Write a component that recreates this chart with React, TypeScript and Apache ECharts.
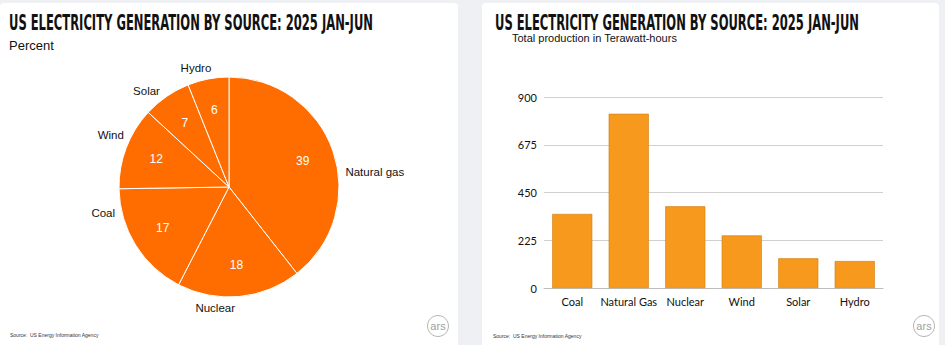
import React, { useEffect, useRef } from "react";
import * as echarts from "echarts";

const TITLE = "US ELECTRICITY GENERATION BY SOURCE: 2025 JAN-JUN";
const pieNames = ["Natural gas", "Nuclear", "Coal", "Wind", "Solar", "Hydro"];
const pieValues = [39, 18, 17, 12, 7, 6];
const barCategories = ["Coal", "Natural Gas", "Nuclear", "Wind", "Solar", "Hydro"];
const barValues = [349, 821, 385, 248, 140, 127];
const yTicks = [0, 225, 450, 675, 900];

// label nudges (styling only): [dx, dy] per pie slice label
const labelNudges: [number, number][] = [
  [-2, 24],
  [-50, 2],
  [-7, -37],
  [12, -9],
  [4, 3],
  [10, -1],
];

const TITLE_FONT = '"Liberation Sans Narrow", "DejaVu Sans Condensed", "Liberation Sans", sans-serif';
const BODY_FONT = '"Liberation Sans", Arial, Helvetica, sans-serif';

function measure(text: string, font: string): number {
  const c = document.createElement("canvas");
  const ctx = c.getContext("2d");
  if (!ctx) return text.length * 10;
  ctx.font = font;
  return ctx.measureText(text).width;
}

export default function App() {
  const ref = useRef<HTMLDivElement>(null);
  useEffect(() => {
    if (!ref.current) return;
    const chart = echarts.init(ref.current, null, { renderer: "svg" });
    const titleSize = 22;
    const tw = measure(TITLE, `bold ${titleSize}px ${TITLE_FONT}`);
    const sx = 364 / tw;

    const pieData = pieNames.map((n, i) => ({ name: n, value: pieValues[i] }));

    const titleEl = (x: number) => ({
      type: "text",
      x,
      y: 22,
      scaleX: sx,
      style: {
        text: TITLE,
        font: `bold ${titleSize}px ${TITLE_FONT}`,
        fill: "#111",
        verticalAlign: "middle",
      },
    });

    const logo = (cx: number, cy: number) => [
      {
        type: "circle",
        shape: { cx, cy, r: 10.5 },
        style: { fill: "#fff", stroke: "#b5b5b5", lineWidth: 1 },
      },
      {
        type: "text",
        x: cx,
        y: cy,
        style: {
          text: "ars",
          font: `11px ${BODY_FONT}`,
          fill: "#a0a0a0",
          align: "center",
          verticalAlign: "middle",
        },
      },
    ];

    chart.setOption({
      animation: false,
      backgroundColor: "#eef0f3",
      graphic: [
        { type: "rect", z: -10, shape: { x: 0, y: 3, width: 458, height: 350, r: 4 }, style: { fill: "#fff" } },
        { type: "rect", z: -10, shape: { x: 482, y: 3, width: 457, height: 350, r: 4 }, style: { fill: "#fff" } },
        titleEl(9),
        titleEl(495),
        {
          type: "text",
          x: 9,
          y: 45,
          style: { text: "Percent", font: `13px ${BODY_FONT}`, fill: "#111", verticalAlign: "middle" },
        },
        {
          type: "text",
          x: 512,
          y: 38,
          style: {
            text: "Total production in Terawatt-hours",
            font: `11px ${BODY_FONT}`,
            fill: "#111",
            verticalAlign: "middle",
          },
        },
        {
          type: "text",
          x: 10,
          y: 335,
          style: { text: "Source:  US Energy Information Agency", font: `5px ${BODY_FONT}`, fill: "#333", verticalAlign: "middle" },
        },
        {
          type: "text",
          x: 493,
          y: 336,
          style: { text: "Source:  US Energy Information Agency", font: `5px ${BODY_FONT}`, fill: "#333", verticalAlign: "middle" },
        },
        ...logo(438, 326),
        ...logo(924, 326),
      ],
      grid: { left: 544, right: 62, top: 97, bottom: 57, containLabel: false },
      xAxis: {
        type: "category",
        data: barCategories,
        axisTick: { show: false },
        axisLine: { lineStyle: { color: "#bdbdbd" } },
        axisLabel: { interval: 0, fontFamily: "Lato", fontSize: 11, color: "#111", margin: 8 },
      },
      yAxis: {
        type: "value",
        min: yTicks[0],
        max: yTicks[yTicks.length - 1],
        interval: yTicks[1] - yTicks[0],
        axisLine: { show: false },
        axisTick: { show: false },
        axisLabel: { fontFamily: "Lato", fontSize: 11, color: "#111", margin: 7 },
        splitLine: { lineStyle: { color: "#d0d0d0" } },
      },
      series: [
        {
          type: "bar",
          data: barValues,
          barWidth: "71%",
          itemStyle: { color: "#f7991d", borderColor: "#d07d12", borderWidth: 0.6 },
          silent: true,
        },
        {
          type: "pie",
          center: [229, 187],
          radius: 110,
          startAngle: 90,
          clockwise: true,
          avoidLabelOverlap: false,
          silent: true,
          data: pieData,
          itemStyle: { color: "#ff6d00", borderColor: "#fff", borderWidth: 1 },
          label: {
            show: true,
            position: "outside",
            formatter: "{b}",
            fontFamily: BODY_FONT,
            fontSize: 11.5,
            color: "#111",
          },
          labelLine: { show: false, length: 10, length2: 0 },
          labelLayout: (p: any) => {
            const n = labelNudges[p.dataIndex] || [0, 0];
            return { dx: n[0], dy: n[1] };
          },
          emphasis: { disabled: true },
        },
        {
          type: "pie",
          center: [229, 187],
          radius: [40, 110],
          startAngle: 90,
          clockwise: true,
          silent: true,
          data: pieData,
          itemStyle: { color: "rgba(0,0,0,0)" },
          label: {
            show: true,
            position: "inside",
            formatter: "{c}",
            fontFamily: BODY_FONT,
            fontSize: 12,
            color: "#fff",
          },
          labelLine: { show: false },
          emphasis: { disabled: true },
        },
      ],
    });
    return () => chart.dispose();
  }, []);
  return (
    <div
      ref={ref}
      style={{ position: "absolute", left: 0, top: 0, width: 945, height: 345 }}
    />
  );
}
